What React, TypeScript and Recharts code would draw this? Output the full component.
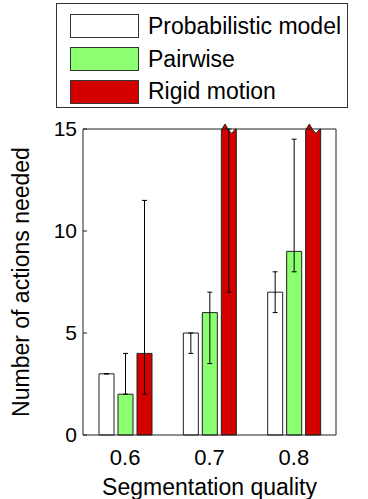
import { Bar, BarChart, ErrorBar, Legend, Rectangle, XAxis, YAxis } from "recharts";

const qualities = ["0.6", "0.7", "0.8"];
const seriesNames = ["Probabilistic model", "Pairwise", "Rigid motion"];
const probabilistic = [3, 5, 7];
const probabilisticErr = [[0, 0], [1, 0], [1, 1]];
const pairwise = [2, 6, 9];
const pairwiseErr = [[0, 2], [2.5, 1], [1, 5.5]];
// rigid motion goes past the top of the axis at 0.7 and 0.8, shown clipped at 15
const rigid = [4, 15, 15];
const rigidErr = [[2, 7.5], [8, 0], null];
const yTicks = [0, 5, 10, 15];
const Y_MAX = 15;

const data = qualities.map((quality, i) => ({
  quality,
  probabilistic: probabilistic[i],
  probabilisticErr: probabilisticErr[i],
  pairwise: pairwise[i],
  pairwiseErr: pairwiseErr[i],
  rigid: rigid[i],
  rigidErr: rigidErr[i],
}));

const FONT = "'Liberation Sans', Arial, Helvetica, sans-serif";
const INK = "#222";

function ClippedBar(props: any) {
  const { x, y, width, height, fill, payload } = props;
  if (payload.rigid < Y_MAX) {
    return <Rectangle x={x} y={y} width={width} height={height} fill={fill} stroke={INK} strokeWidth={1} />;
  }
  // break marker at the top for bars that run off the axis
  const b = y + height;
  const d = [
    `M${x},${b}`,
    `L${x},${y + 1}`,
    `L${x + width * 0.25},${y - 5}`,
    `L${x + width * 0.47},${y + 1}`,
    `L${x + width * 0.7},${y + 4.5}`,
    `L${x + width * 0.93},${y}`,
    `L${x + width},${y}`,
    `L${x + width},${b}`,
    "Z",
  ].join(" ");
  return <path d={d} fill={fill} stroke={INK} strokeWidth={1} />;
}

function LegendBox({ payload }: any) {
  const items = [...(payload || [])].sort(
    (a: any, b: any) => seriesNames.indexOf(a.value) - seriesNames.indexOf(b.value)
  );
  return (
    <div
      style={{
        width: 292,
        height: 105,
        border: "1px solid #333",
        background: "#fff",
        boxSizing: "border-box",
        paddingTop: 6,
        fontFamily: FONT,
      }}
    >
      {items.map((item: any) => (
        <div key={item.value} style={{ display: "flex", alignItems: "center", height: 32.7 }}>
          <div
            style={{
              marginLeft: 13,
              width: 69,
              height: 24,
              boxSizing: "border-box",
              border: "1.5px solid #333",
              background: item.color,
            }}
          />
          <span style={{ marginLeft: 9, fontSize: 23, color: "#000" }}>{item.value}</span>
        </div>
      ))}
    </div>
  );
}

export default function App() {
  return (
    <div style={{ position: "absolute", left: 0, top: 0, width: 368, height: 499, background: "#fff" }}>
      <BarChart
        width={368}
        height={499}
        data={data}
        margin={{ top: 0, right: 0, bottom: 0, left: 0 }}
        barSize={15}
        barGap={4}
        style={{ fontFamily: FONT }}
      >
        <XAxis
          dataKey="quality"
          height={64}
          tickLine={false}
          tickSize={-4}
          tickMargin={18}
          axisLine={{ stroke: INK }}
          tick={{ fill: "#000", fontSize: 22 }}
          label={{ value: "Segmentation quality", position: "insideBottom", offset: 4, fill: "#000", fontSize: 23 }}
        />
        <XAxis
          xAxisId="top"
          dataKey="quality"
          orientation="top"
          height={129}
          tick={false}
          tickSize={-4}
          tickLine={{ stroke: INK }}
          axisLine={{ stroke: INK }}
        />
        <YAxis
          width={83}
          domain={[0, Y_MAX]}
          ticks={yTicks}
          tickSize={-4}
          tickMargin={10}
          tickLine={{ stroke: INK }}
          axisLine={{ stroke: INK }}
          tick={{ fill: "#000", fontSize: 21 }}
          label={{
            value: "Number of actions needed",
            angle: -90,
            position: "insideLeft",
            offset: 21,
            fill: "#000",
            fontSize: 23,
            style: { textAnchor: "middle" },
          }}
        />
        <YAxis
          yAxisId="right"
          orientation="right"
          width={32}
          domain={[0, Y_MAX]}
          ticks={yTicks}
          tick={false}
          tickSize={-4}
          tickLine={{ stroke: INK }}
          axisLine={{ stroke: INK }}
        />
        <Legend
          layout="horizontal"
          verticalAlign="middle"
          align="center"
          content={<LegendBox />}
          wrapperStyle={{ left: 56, top: 3, width: 292, height: 105 }}
        />
        <Bar dataKey="probabilistic" name={seriesNames[0]} fill="#ffffff" stroke={INK} isAnimationActive={false}>
          <ErrorBar dataKey="probabilisticErr" width={2.5} stroke="#000" strokeWidth={1} />
        </Bar>
        <Bar dataKey="pairwise" name={seriesNames[1]} fill="#8cff70" stroke={INK} isAnimationActive={false}>
          <ErrorBar dataKey="pairwiseErr" width={2.5} stroke="#000" strokeWidth={1} />
        </Bar>
        <Bar dataKey="rigid" name={seriesNames[2]} fill="#d40000" shape={ClippedBar} isAnimationActive={false}>
          <ErrorBar dataKey="rigidErr" width={2.5} stroke="#000" strokeWidth={1} />
        </Bar>
      </BarChart>
    </div>
  );
}
